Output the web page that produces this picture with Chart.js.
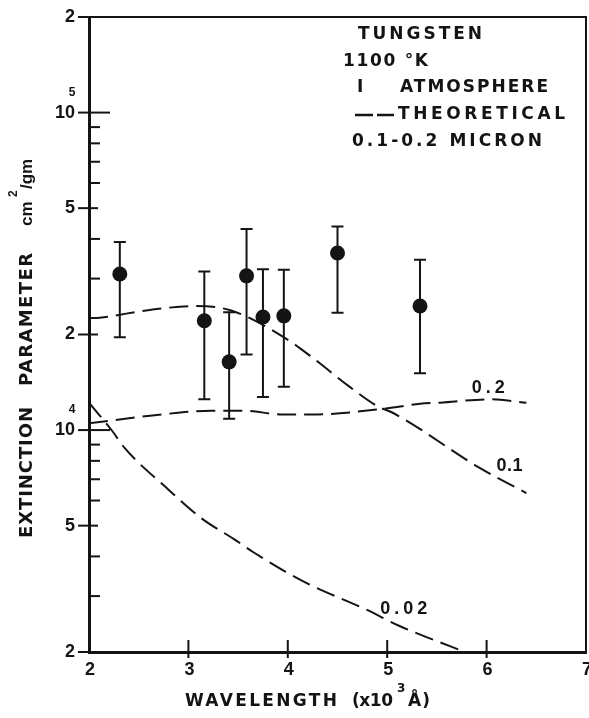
<!DOCTYPE html>
<html>
<head>
<meta charset="utf-8">
<script src="https://cdn.jsdelivr.net/npm/chart.js@4/dist/chart.umd.min.js"></script>
<style>
  html, body { margin: 0; padding: 0; background: #fff; }
  canvas { display: block; }
</style>
</head>
<body>
<canvas id="chart" width="589" height="718"></canvas>
<script>
// measured points (wavelength in 10^3 A, extinction in cm^2/gm)
const wavelengths = [2.31, 3.16, 3.41, 3.585, 3.75, 3.96, 4.5, 5.33];
const measured = [31000, 22100, 16400, 30600, 22700, 22900, 36100, 24600];
const errHigh = [39100, 31600, 23500, 43000, 32100, 32000, 43800, 34400];
const errLow = [19600, 12500, 10850, 17300, 12700, 13700, 23400, 15100];

// theoretical curves, one per particle size (micron)
const curve01X = [2.0, 2.11, 2.61, 3.08, 3.43, 3.95, 4.25, 4.62, 4.92, 5.04, 5.93, 6.4];
const curve01Y = [22500, 22600, 23900, 24600, 23800, 19700, 16900, 13700, 11800, 11400, 7600, 6330];
const curve02X = [2.0, 2.73, 3.23, 3.57, 3.94, 4.25, 4.99, 5.33, 5.53, 6.03, 6.4];
const curve02Y = [10500, 11200, 11500, 11500, 11200, 11200, 11700, 12100, 12200, 12500, 12200];
const curve002X = [2.0, 2.23, 2.36, 2.8, 3.13, 3.47, 3.65, 3.97, 4.22, 4.79, 5.13, 5.49, 5.73];
const curve002Y = [12200, 9970, 8770, 6490, 5280, 4510, 4130, 3590, 3260, 2720, 2410, 2170, 2030];

const curveLabels = ["0.2", "0.1", "0.02"];
const curveLabelX = [5.85, 6.1, 4.93];
const curveLabelY = [13600, 7700, 2740];

const xTicks = [2, 3, 4, 5, 6, 7];
const yTicks = [2000, 5000, 10000, 20000, 50000, 100000, 200000];
const yTickLabels = ["2", "5", "10", "2", "5", "10", "2"];
const yExponents = ["", "", "4", "", "", "5", ""];
const yMinorTicks = [3000, 4000, 6000, 7000, 8000, 9000, 30000, 40000, 60000, 70000, 80000, 90000];

const INK = "#141414";
const FONT = "Liberation Sans, Arial, sans-serif";
const TEXT_FONT = "DejaVu Sans, sans-serif";

function toPoints(xs, ys) {
  return xs.map((x, i) => ({ x: x, y: ys[i] }));
}

// spread letters so a piece of text fills a given width
function fitText(ctx, text, x, y, width) {
  ctx.letterSpacing = "0px";
  const w = ctx.measureText(text).width;
  const n = [...text].length;
  const sp = n > 1 ? (width - w) / (n - 1) : 0;
  ctx.letterSpacing = sp + "px";
  ctx.fillText(text, x, y);
  ctx.letterSpacing = "0px";
}

const decor = {
  id: "decor",
  beforeDatasetsDraw(chart) {
    const { ctx, scales: { x, y } } = chart;
    ctx.save();
    ctx.strokeStyle = INK;
    ctx.lineWidth = 2;
    wavelengths.forEach((w, i) => {
      const px = x.getPixelForValue(w);
      const top = y.getPixelForValue(errHigh[i]);
      const bot = y.getPixelForValue(errLow[i]);
      ctx.beginPath();
      ctx.moveTo(px, top);
      ctx.lineTo(px, bot);
      ctx.moveTo(px - 6, top);
      ctx.lineTo(px + 6, top);
      ctx.moveTo(px - 6, bot);
      ctx.lineTo(px + 6, bot);
      ctx.stroke();
    });
    ctx.restore();
  },
  afterDraw(chart) {
    const { ctx, chartArea: a, scales: { x, y } } = chart;
    ctx.save();
    ctx.strokeStyle = INK;
    ctx.fillStyle = INK;

    // top and right frame
    ctx.lineWidth = 2;
    ctx.beginPath();
    ctx.moveTo(a.left, a.top);
    ctx.lineTo(a.right, a.top);
    ctx.lineTo(a.right, a.bottom);
    ctx.stroke();

    // y ticks
    yTicks.forEach((v, i) => {
      const py = y.getPixelForValue(v);
      const inner = yTickLabels[i] === "10" ? 21 : 9;
      ctx.beginPath();
      ctx.moveTo(a.left - 11, py);
      ctx.lineTo(a.left + inner, py);
      ctx.stroke();
    });
    yMinorTicks.forEach((v) => {
      const py = y.getPixelForValue(v);
      ctx.beginPath();
      ctx.moveTo(a.left, py);
      ctx.lineTo(a.left + 11, py);
      ctx.stroke();
    });
    // x ticks and their labels
    xTicks.slice(1, -1).forEach((v) => {
      const px = x.getPixelForValue(v);
      ctx.beginPath();
      ctx.moveTo(px, a.bottom - 12);
      ctx.lineTo(px, a.bottom + 6);
      ctx.stroke();
    });
    ctx.font = "bold 18px " + FONT;
    ctx.textAlign = "center";
    ctx.textBaseline = "middle";
    xTicks.forEach((v) => {
      ctx.fillText(String(v), x.getPixelForValue(v) + 1, a.bottom + 18);
    });

    // exponents on decade labels
    ctx.font = "bold 12px " + FONT;
    yTicks.forEach((v, i) => {
      if (!yExponents[i]) return;
      ctx.fillText(yExponents[i], a.left - 17, y.getPixelForValue(v) - 20);
    });

    // curve labels
    ctx.font = "bold 18px " + FONT;
    ctx.textAlign = "left";
    const labelW = [33, 26, 47];
    curveLabels.forEach((t, i) => {
      fitText(ctx, t, x.getPixelForValue(curveLabelX[i]), y.getPixelForValue(curveLabelY[i]), labelW[i]);
    });

    // legend block
    ctx.font = "bold 17px " + TEXT_FONT;
    fitText(ctx, "TUNGSTEN", 358, 35, 124);
    fitText(ctx, "1100 °K", 343, 62, 85);
    fitText(ctx, "I", 357, 88, 6);
    fitText(ctx, "ATMOSPHERE", 400, 88, 148);
    fitText(ctx, "THEORETICAL", 398, 115, 167);
    fitText(ctx, "0.1-0.2 MICRON", 352, 142, 190);
    ctx.lineWidth = 2.5;
    ctx.beginPath();
    ctx.moveTo(355, 115);
    ctx.lineTo(373, 115);
    ctx.moveTo(377, 115);
    ctx.lineTo(394, 115);
    ctx.stroke();

    // x axis title
    fitText(ctx, "WAVELENGTH", 185, 702, 152);
    fitText(ctx, "(x10", 352, 702, 41);
    ctx.font = "bold 12px " + TEXT_FONT;
    ctx.fillText("3", 397, 689);
    ctx.font = "bold 17px " + TEXT_FONT;
    fitText(ctx, "Å)", 408, 702, 22);

    // y axis title, rotated
    ctx.translate(27, 0);
    ctx.rotate(-Math.PI / 2);
    ctx.font = "bold 18px " + TEXT_FONT;
    fitText(ctx, "EXTINCTION", -538, 0, 131);
    fitText(ctx, "PARAMETER", -386, 0, 133);
    ctx.font = "bold 17px " + FONT;
    ctx.fillText("cm", -226, 0);
    ctx.fillText("/gm", -189, 0);
    ctx.font = "bold 12px " + FONT;
    ctx.fillText("2", -197, -13);
    ctx.restore();
  }
};

const dashed = {
  borderColor: INK,
  borderWidth: 2,
  borderDash: [19, 8],
  pointRadius: 0,
  fill: false,
  cubicInterpolationMode: "monotone"
};

new Chart(document.getElementById("chart").getContext("2d"), {
  type: "line",
  data: {
    datasets: [
      {
        label: "Measured",
        data: toPoints(wavelengths, measured),
        showLine: false,
        pointRadius: 7.5,
        pointBackgroundColor: INK,
        pointBorderWidth: 0
      },
      { label: "0.1", data: toPoints(curve01X, curve01Y), ...dashed },
      { label: "0.2", data: toPoints(curve02X, curve02Y), ...dashed },
      { label: "0.02", data: toPoints(curve002X, curve002Y), ...dashed }
    ]
  },
  options: {
    responsive: false,
    animation: false,
    devicePixelRatio: 1,
    layout: { autoPadding: false, padding: { left: 0, right: 3, top: 17, bottom: 0 } },
    plugins: { legend: { display: false }, tooltip: { enabled: false } },
    scales: {
      x: {
        type: "linear",
        min: 2,
        max: 7,
        afterBuildTicks: (s) => { s.ticks = xTicks.map((v) => ({ value: v })); },
        afterFit: (s) => { s.height = 66; },
        grid: { display: false, drawTicks: false },
        border: { display: true, width: 3, color: INK },
        ticks: { display: false }
      },
      y: {
        type: "logarithmic",
        min: 2000,
        max: 200000,
        afterBuildTicks: (s) => { s.ticks = yTicks.map((v) => ({ value: v })); },
        afterFit: (s) => { s.width = 89; s.paddingTop = 0; s.paddingBottom = 0; },
        grid: { display: false, drawTicks: false },
        border: { display: true, width: 3, color: INK },
        ticks: {
          color: INK,
          font: { family: FONT, size: 18, weight: "bold" },
          padding: 14,
          autoSkip: false,
          callback: (v, i) => yTickLabels[i]
        }
      }
    }
  },
  plugins: [decor]
});
</script>
</body>
</html>
